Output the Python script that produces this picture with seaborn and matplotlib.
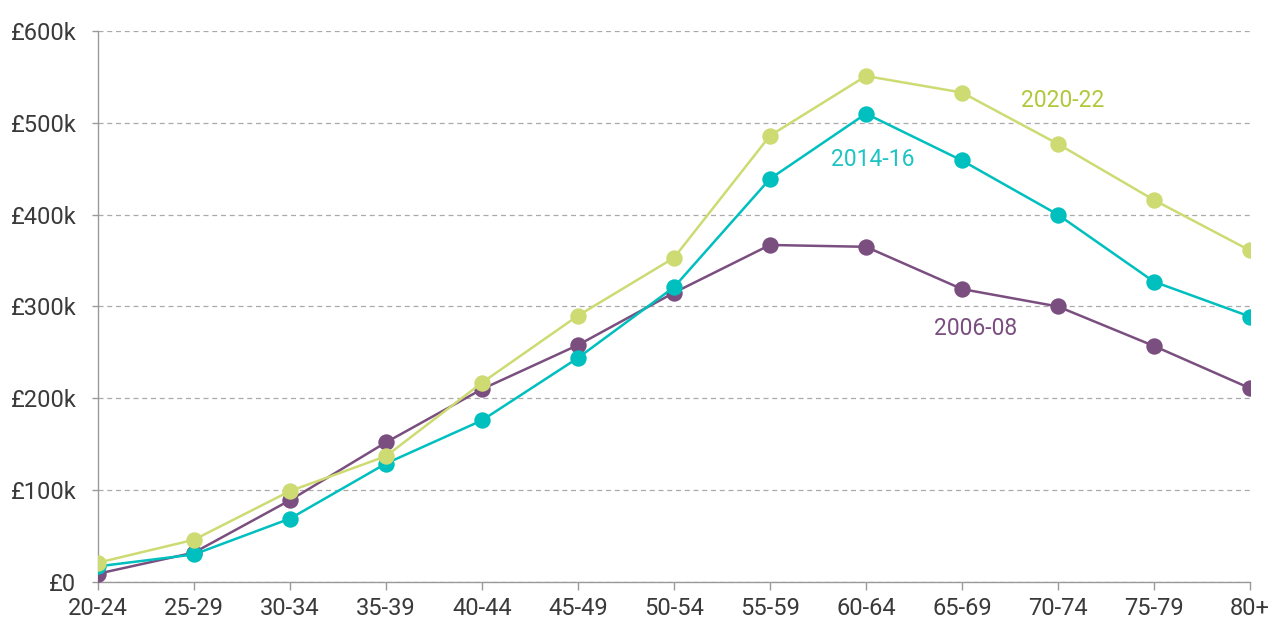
import matplotlib
matplotlib.use("Agg")
import matplotlib.pyplot as plt
import seaborn as sns
import pandas as pd

age_bands = ["20-24", "25-29", "30-34", "35-39", "40-44", "45-49", "50-54",
             "55-59", "60-64", "65-69", "70-74", "75-79", "80+"]
wealth_2006_08 = [9, 32, 89, 152, 210, 258, 315, 367, 365, 319, 300, 257, 211]
wealth_2014_16 = [17, 30, 69, 129, 176, 244, 321, 439, 510, 459, 400, 327, 289]
wealth_2020_22 = [21, 46, 99, 137, 217, 290, 353, 486, 551, 533, 477, 416, 361]
periods = ["2006-08", "2014-16", "2020-22"]
y_ticks = [0, 100, 200, 300, 400, 500, 600]
y_tick_labels = ["£0", "£100k", "£200k", "£300k", "£400k", "£500k", "£600k"]

line_colors = {"2006-08": "#7a4f80", "2014-16": "#00bfbf", "2020-22": "#cddb72"}
label_colors = {"2006-08": "#7a4f80", "2014-16": "#1ec3c3", "2020-22": "#b2c83c"}

rows = []
for period, values in zip(periods, [wealth_2006_08, wealth_2014_16, wealth_2020_22]):
    for i, (band, v) in enumerate(zip(age_bands, values)):
        rows.append({"pos": i, "age": band, "wealth": v * 1000, "period": period})
df = pd.DataFrame(rows)

sns.set_theme(style="white")
plt.rcParams["font.family"] = ["Roboto", "DejaVu Sans"]

fig = plt.figure(figsize=(12.69, 6.19), dpi=100)
ax = fig.add_axes([0.0772, 0.0598, 0.9078, 0.8901])

sns.lineplot(data=df, x="pos", y="wealth", hue="period", hue_order=periods,
             palette=line_colors, marker="o", markersize=11.8, markeredgewidth=0,
             linewidth=1.8, legend=False, ax=ax, zorder=3)

ax.set_xlim(0, 12)
ax.set_ylim(0, 600000)
ax.set_xticks(range(len(age_bands)))
ax.set_xticklabels(age_bands)
ax.set_yticks([t * 1000 for t in y_ticks])
ax.set_yticklabels(y_tick_labels)
ax.set_xlabel("")
ax.set_ylabel("")

ax.grid(axis="y", color="#aaaaaa", linestyle=(0, (4, 3)), linewidth=0.9, zorder=0)
ax.grid(axis="x", visible=False)
for side in ["top", "right"]:
    ax.spines[side].set_visible(False)
for side in ["left", "bottom"]:
    ax.spines[side].set_color("#9a9a9a")
    ax.spines[side].set_linewidth(1.0)
    ax.spines[side].set_zorder(1)

ax.tick_params(axis="y", which="both", left=True, length=4.5, width=1.0,
               color="#9a9a9a", pad=11, labelsize=17, labelcolor="#3a3a3a")
ax.tick_params(axis="x", which="both", bottom=True, length=5.5, width=1.0,
               color="#9a9a9a", pad=5, labelsize=17, labelcolor="#3a3a3a")

# series labels placed beside their lines
ax.text(10.05, 524000, "2020-22", color=label_colors["2020-22"], fontsize=16.5,
        ha="center", va="center")
ax.text(8.07, 460000, "2014-16", color=label_colors["2014-16"], fontsize=16.5,
        ha="center", va="center")
ax.text(9.14, 276000, "2006-08", color=label_colors["2006-08"], fontsize=16.5,
        ha="center", va="center")

fig.savefig("out.png", dpi=100)
